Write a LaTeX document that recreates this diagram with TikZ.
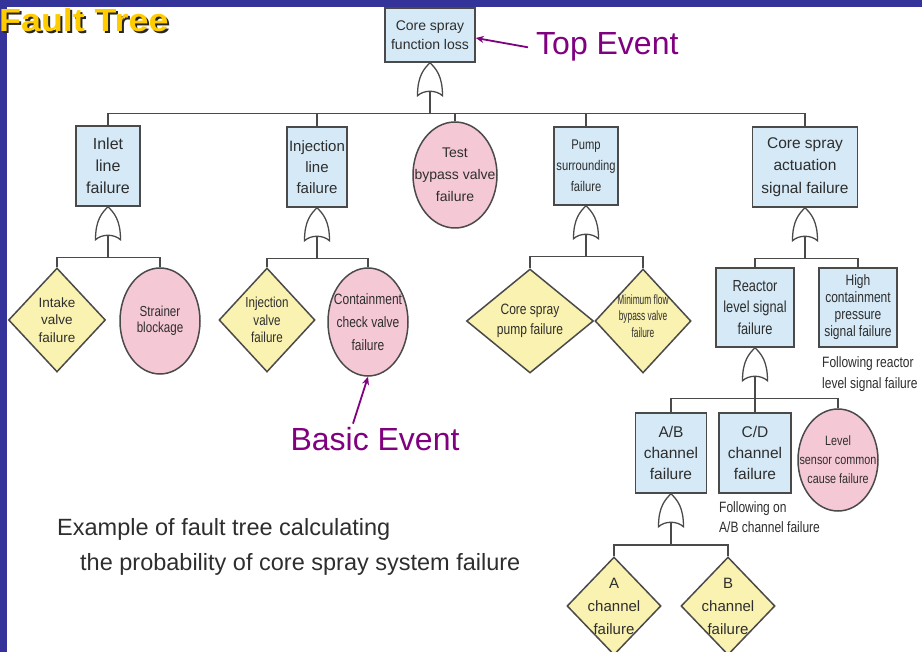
\documentclass[tikz,border=0pt]{standalone}
\usepackage{fontspec}
\setmainfont{Liberation Sans}
\newfontfamily\narrowfont[FakeStretch=0.8]{Liberation Sans}
\newfontfamily\slimfont[FakeStretch=0.62]{Liberation Sans}
\newfontfamily\titlefont[FakeStretch=1.12]{Liberation Sans}
\usetikzlibrary{shapes.geometric,arrows.meta}

\definecolor{bandblue}{HTML}{333399}
\definecolor{gatebox}{HTML}{D5E9F6}
\definecolor{basicpink}{HTML}{F5C8D6}
\definecolor{undevyellow}{HTML}{FAF2B0}
\definecolor{edgegray}{HTML}{4A4A4A}
\definecolor{textgray}{HTML}{2E2E2E}
\definecolor{notepurple}{HTML}{800080}
\definecolor{titleyellow}{HTML}{FFCC00}

\newcommand{\fsz}[2]{\fontsize{#1}{#2}\selectfont}
\newcommand{\shadowed}[1]{\rlap{\kern2pt\raisebox{-2pt}{\color{black!85}#1}}#1}

\begin{document}
\begin{tikzpicture}[x=1pt, y=-1pt,
	event/.style={draw=edgegray, line width=1.5pt, fill=gatebox, inner sep=0pt, align=center, text=textgray},
	basic/.style={ellipse, draw=edgegray, line width=1.5pt, fill=basicpink, inner sep=0pt},
	undev/.style={diamond, draw=edgegray, line width=1.5pt, fill=undevyellow, inner sep=0pt},
	lbl/.style={align=center, text=textgray, inner sep=0pt},
	note/.style={align=left, text=textgray, inner sep=0pt, font=\narrowfont\fsz{15}{20.5}},
	wire/.style={draw=edgegray, line width=1.5pt},
	callout/.style={text=notepurple, inner sep=8pt, font=\fsz{32}{36}},
	pointer/.style={draw=notepurple, line width=1.8pt, -{Stealth[length=8pt,width=7pt]}},
	orgate/.pic={
		\draw[draw=edgegray, line width=1.3pt, fill=white] (0,0) .. controls (6,6) and (12.5,13) .. (12.5,33)
			.. controls (6,27) and (-6,27) .. (-12.5,33) .. controls (-12.5,13) and (-6,6) .. (0,0) -- cycle;
		\coordinate (-base) at (0,28.5);
		\coordinate (-bus) at (0,51);
	}]
	\useasboundingbox (0,0) rectangle (922,652);
	\clip (0,0) rectangle (922,652);
	\fill[white] (0,0) rectangle (922,652);
	\fill[bandblue] (0,0) rectangle (922,7);
	\fill[bandblue] (0,0) rectangle (7,652);

	% title
	\node[anchor=base west, inner sep=0pt, text=titleyellow, font=\titlefont\bfseries\fsz{32}{36}] (title) at (-1,32) {\shadowed{Fault Tree}};

	% top event
	\node[event, minimum width=90, minimum height=54, font=\fsz{14}{19}] (top) at (430,35) {Core spray\\function loss};
	\pic (gtop) at (top.south) {orgate};

	% first level
	\node[event, minimum width=64, minimum height=80, font=\fsz{16}{22}] (inlet) at (108,166) {Inlet\\line\\failure};
	\node[event, minimum width=60, minimum height=80, font=\fsz{15}{21}] (inject) at (317,167) {Injection\\line\\failure};
	\node[basic, minimum width=84, minimum height=106, label={[lbl, font=\fsz{14}{22}]center:Test\\bypass valve\\failure}] (test) at (455,175) {};
	\node[event, minimum width=64, minimum height=78, font=\narrowfont\fsz{14}{21}] (pump) at (586,166) {Pump\\surrounding\\failure};
	\node[event, minimum width=105, minimum height=80, font=\fsz{15.5}{22.5}] (act) at (805,167) {Core spray\\actuation\\signal failure};
	\pic (ginlet) at (inlet.south) {orgate};
	\pic (ginject) at (inject.south) {orgate};
	\pic (gpump) at (pump.south) {orgate};
	\pic (gact) at (act.south) {orgate};

	\draw[wire] (gtop-base) -- (gtop-bus);
	\draw[wire] (gtop-bus) -| (inlet.north);
	\draw[wire] (gtop-bus) -| (inject.north);
	\draw[wire] (gtop-bus) -| (test.north);
	\draw[wire] (gtop-bus) -| (pump.north);
	\draw[wire] (gtop-bus) -| (act.north);

	% second level
	\node[undev, minimum width=97, minimum height=104, label={[lbl, font=\fsz{13.5}{17.5}]center:Intake\\valve\\failure}] (intake) at (57,320) {};
	\node[basic, minimum width=80, minimum height=106, label={[lbl, font=\narrowfont\fsz{14.5}{16}]center:Strainer\\blockage}] (strainer) at (160,321) {};
	\node[undev, minimum width=96, minimum height=104, label={[lbl, font=\narrowfont\fsz{14.5}{17.5}]center:Injection\\valve\\failure}] (injvalve) at (267,320) {};
	\node[basic, minimum width=80, minimum height=108, label={[lbl, font=\narrowfont\fsz{15}{23}]center:Containment\\check valve\\failure}] (contain) at (368,322) {};
	\node[undev, minimum width=127, minimum height=104, label={[lbl, font=\narrowfont\fsz{15}{20}]center:Core spray\\pump failure}] (pumpfail) at (530,321) {};
	\node[undev, minimum width=96, minimum height=104, label={[lbl, yshift=5pt, font=\slimfont\fsz{13.5}{16.5}]center:Minimum flow\\bypass valve\\failure}] (minflow) at (643,321) {};
	\node[event, minimum width=78, minimum height=79, font=\narrowfont\fsz{16}{21.5}] (reactor) at (755,307.5) {Reactor\\level signal\\failure};
	\node[event, minimum width=78, minimum height=79, font=\narrowfont\fsz{15}{17}] (high) at (858,307.5) {High\\containment\\pressure\\signal failure};
	\node[note, anchor=west] (note1) at (822,374) {Following reactor\\level signal failure};

	\draw[wire] (ginlet-base) -- (ginlet-bus);
	\draw[wire] (ginlet-bus) -| (intake.north);
	\draw[wire] (ginlet-bus) -| (strainer.north);
	\draw[wire] (ginject-base) -- (ginject-bus);
	\draw[wire] (ginject-bus) -| (injvalve.north);
	\draw[wire] (ginject-bus) -| (contain.north);
	\draw[wire] (gpump-base) -- (gpump-bus);
	\draw[wire] (gpump-bus) -| (pumpfail.north);
	\draw[wire] (gpump-bus) -| (minflow.north);
	\draw[wire] (gact-base) -- (gact-bus);
	\draw[wire] (gact-bus) -| (reactor.north);
	\draw[wire] (gact-bus) -| (high.north);

	% third level
	\pic (greactor) at (reactor.south) {orgate};
	\node[event, minimum width=71, minimum height=80, font=\fsz{15.5}{21}] (ab) at (671,453) {A/B\\channel\\failure};
	\node[event, minimum width=72, minimum height=80, font=\fsz{15.5}{21}] (cd) at (755,453) {C/D\\channel\\failure};
	\node[basic, minimum width=80, minimum height=102, label={[lbl, font=\narrowfont\fsz{13.5}{19}]center:Level\\sensor common\\cause failure}] (levelsens) at (838,460) {};
	\node[note, anchor=west] (note2) at (719,517) {Following on\\A/B channel failure};
	\draw[wire] (greactor-base) -- (greactor-bus);
	\draw[wire] (greactor-bus) -| (ab.north);
	\draw[wire] (greactor-bus) -| (cd.north);
	\draw[wire] (greactor-bus) -| (levelsens.north);

	% fourth level
	\pic (gab) at (ab.south) {orgate};
	\node[undev, minimum width=94, minimum height=98, label={[lbl, font=\fsz{15}{23}]center:A\\channel\\failure}] (chA) at (614,606) {};
	\node[undev, minimum width=94, minimum height=98, label={[lbl, font=\fsz{15}{23}]center:B\\channel\\failure}] (chB) at (728,606) {};
	\draw[wire] (gab-base) -- (gab-bus);
	\draw[wire] (gab-bus) -| (chA.north);
	\draw[wire] (gab-bus) -| (chB.north);

	% callouts and caption
	\node[callout, anchor=base west] (topev) at (528,55) {Top Event};
	\draw[pointer] (topev.west) -- ([yshift=-3pt]top.east);
	\node[callout, inner sep=4pt, anchor=base] (basicev) at (375,451) {Basic Event};
	\draw[pointer] ([xshift=-22pt]basicev.north) -- (contain.south);
	\node[anchor=base west, inner sep=0pt, text=textgray, font=\fsz{23.5}{28}] (cap1) at (57,535) {Example of fault tree calculating};
	\node[anchor=base west, inner sep=0pt, text=textgray, font=\fsz{23.5}{28}] (cap2) at (80,570) {the probability of core spray system failure};
\end{tikzpicture}
\end{document}
